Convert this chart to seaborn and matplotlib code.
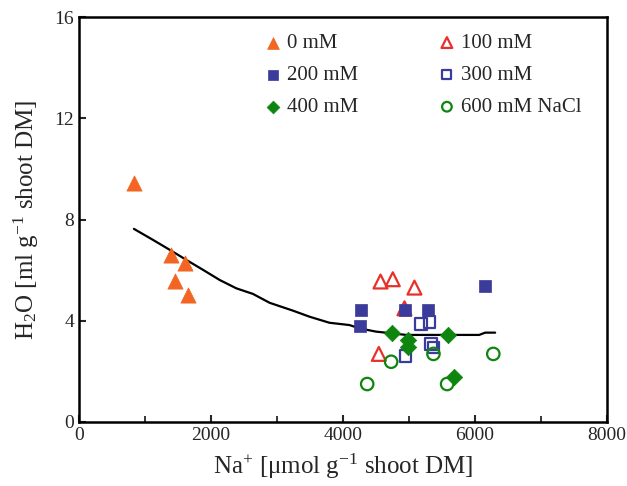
import numpy as np
import pandas as pd
import matplotlib
matplotlib.use("Agg")
import matplotlib.pyplot as plt
import seaborn as sns
from matplotlib.ticker import MultipleLocator

# ---- data ----
na_0 = [832, 1392, 1604, 1452, 1649]
h2o_0 = [9.45, 6.6, 6.28, 5.57, 5.02]
na_100 = [4569, 4755, 5083, 4932, 4543]
h2o_100 = [5.55, 5.64, 5.31, 4.49, 2.69]
na_200 = [4277, 4251, 4947, 5284, 6157]
h2o_200 = [4.43, 3.79, 4.43, 4.43, 5.38]
na_300 = [5184, 5310, 5336, 5371, 4947]
h2o_300 = [3.87, 3.94, 3.08, 2.95, 2.61]
na_400 = [4745, 4992, 4992, 5598, 5688]
h2o_400 = [3.53, 3.24, 2.95, 3.44, 1.79]
na_600 = [4730, 5371, 6278, 4367, 5578]
h2o_600 = [2.38, 2.69, 2.69, 1.50, 1.50]

fit_x = [832, 1124, 1376, 1629, 1880, 2132, 2385, 2636, 2888, 2990, 3241, 3493,
         3796, 4098, 4250, 4502, 4753, 4956, 5611, 6064, 6155, 6306]
fit_y = [7.63, 7.19, 6.80, 6.40, 6.01, 5.61, 5.28, 5.06, 4.71, 4.62, 4.40, 4.16,
         3.92, 3.83, 3.70, 3.57, 3.50, 3.44, 3.44, 3.44, 3.53, 3.53]

labels = ["0 mM", "100 mM", "200 mM", "300 mM", "400 mM", "600 mM NaCl"]

sns.set_style("ticks")
plt.rcParams['font.family'] = ['Liberation Serif', 'DejaVu Serif']
plt.rcParams['mathtext.fontset'] = 'custom'
plt.rcParams['mathtext.rm'] = 'Liberation Serif'
plt.rcParams['mathtext.it'] = 'Liberation Serif'

fig = plt.figure(figsize=(6.27, 4.86), dpi=100)
ax = fig.add_axes([0.126, 0.1317, 0.842, 0.8333])

sns.lineplot(x=fit_x, y=fit_y, ax=ax, color="black", linewidth=1.6, sort=False)

orange = "#F26522"
red = "#E8302A"
blue = "#3B3B9B"
green = "#0E850E"

styles = [
    (na_0, h2o_0, "^", orange, True, 120),
    (na_100, h2o_100, "^", red, False, 100),
    (na_200, h2o_200, "s", blue, True, 85),
    (na_300, h2o_300, "s", blue, False, 70),
    (na_400, h2o_400, "D", green, True, 70),
    (na_600, h2o_600, "o", green, False, 80),
]

handles = []
for (xs, ys, m, c, filled, s), lab in zip(styles, labels):
    if filled:
        sns.scatterplot(x=xs, y=ys, ax=ax, marker=m, s=s, color=c,
                        edgecolor=c, linewidth=0.5, zorder=3)
    else:
        sns.scatterplot(x=xs, y=ys, ax=ax, marker=m, s=s, facecolor="none",
                        edgecolor=c, linewidth=1.6, zorder=3)
    h = ax.scatter([], [], marker=m, s=s * 0.6,
                   facecolor=(c if filled else "none"), edgecolor=c,
                   linewidth=(0.5 if filled else 1.6))
    handles.append(h)

order = [0, 2, 4, 1, 3, 5]
ax.legend([handles[i] for i in order], [labels[i] for i in order],
          ncol=2, frameon=False, loc="upper left",
          bbox_to_anchor=(0.335, 0.98), fontsize=15,
          handletextpad=0.3, columnspacing=3.85, labelspacing=0.6,
          handlelength=0.8, borderaxespad=0)

ax.set_xlim(0, 8000)
ax.set_ylim(0, 16)
ax.xaxis.set_major_locator(MultipleLocator(2000))
ax.xaxis.set_minor_locator(MultipleLocator(1000))
ax.yaxis.set_major_locator(MultipleLocator(4))
ax.tick_params(axis="both", which="major", direction="in", length=5, width=1.5,
               labelsize=14, top=False, right=False)
ax.tick_params(axis="both", which="minor", direction="in", length=4, width=1.3,
               top=False, right=False)
for sp in ax.spines.values():
    sp.set_visible(True)
    sp.set_linewidth(1.8)
    sp.set_color("black")

ax.set_xlabel(r"Na$^{+}$ [μmol g$^{-1}$ shoot DM]", fontsize=18, labelpad=6)
ax.set_ylabel(r"H$_{2}$O [ml g$^{-1}$ shoot DM]", fontsize=18, labelpad=10)

fig.savefig("out.png", dpi=100)
